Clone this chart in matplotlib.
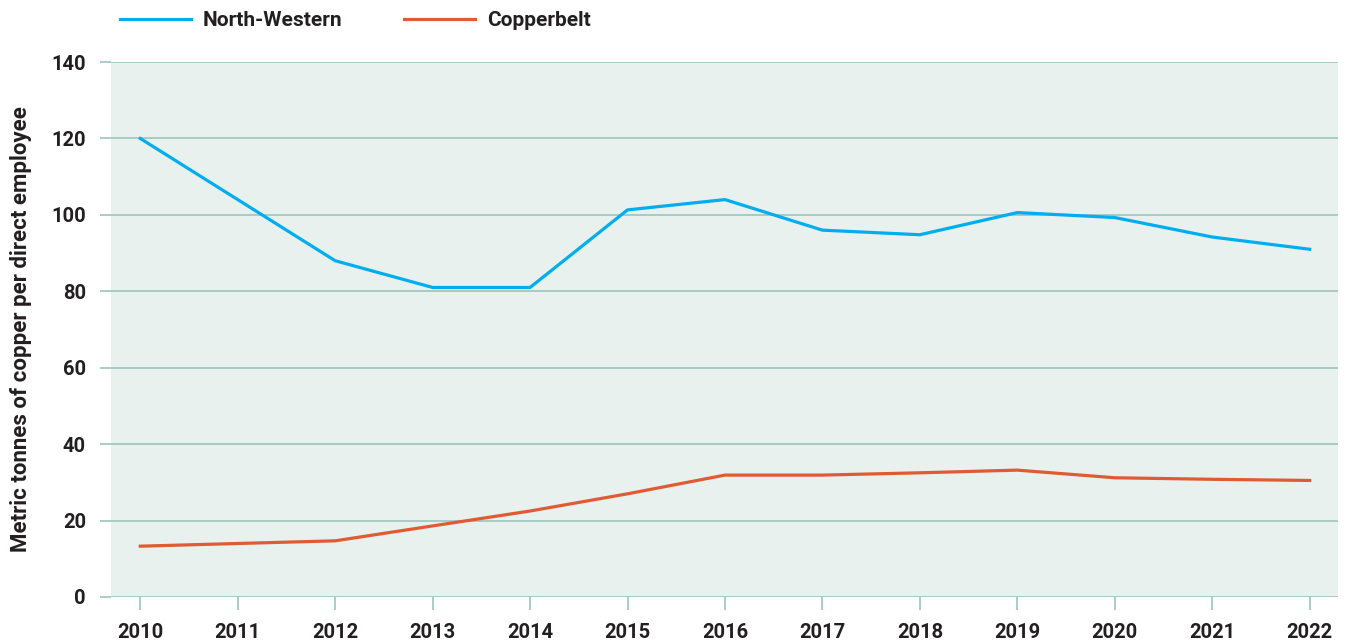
import matplotlib.pyplot as plt

years = list(range(2010, 2023))
north_western = [120.0, 104.0, 88.0, 81.0, 81.0, 101.3, 104.0, 96.0, 94.8, 100.6, 99.3, 94.2, 91.0]
copperbelt = [13.3, 14.0, 14.7, 18.6, 22.5, 27.0, 31.9, 31.9, 32.5, 33.2, 31.2, 30.8, 30.5]
y_ticks = [0, 20, 40, 60, 80, 100, 120, 140]

blue = '#00AEEF'
orange = '#E05A33'
grid_col = '#9DC4BE'
bg_col = '#E9F1EE'
text_col = '#231F20'

plt.rcParams['font.family'] = ['Roboto', 'DejaVu Sans']
plt.rcParams['font.weight'] = 'bold'

fig = plt.figure(figsize=(13.49, 6.42), dpi=100)
ax = fig.add_axes([0.0823, 0.0701, 0.9095, 0.8333])
ax.set_facecolor(bg_col)

ax.plot(years, north_western, color=blue, lw=2.3, label='North-Western')
ax.plot(years, copperbelt, color=orange, lw=2.3, label='Copperbelt')

ax.set_xlim(2009.70, 2022.29)
ax.set_ylim(0, 140)
ax.set_yticks(y_ticks)
ax.set_xticks(years)
ax.yaxis.grid(True, color=grid_col, lw=1.2)
ax.set_axisbelow(True)
for s in ax.spines.values():
    s.set_visible(False)

ax.tick_params(axis='y', length=8, width=1.2, color=grid_col, pad=10,
               labelsize=14.5, labelcolor=text_col)
ax.tick_params(axis='x', length=9, width=1.2, color=grid_col, pad=10,
               labelsize=14.5, labelcolor=text_col)
for lbl in ax.get_xticklabels() + ax.get_yticklabels():
    lbl.set_fontweight('bold')

ax.set_ylabel('Metric tonnes of copper per direct employee', fontsize=16,
              fontweight='bold', color=text_col, labelpad=14)

leg = fig.legend(loc='upper left', bbox_to_anchor=(0.075, 1.012), ncol=2, frameon=False,
                 handlelength=3.4, columnspacing=3.0, handletextpad=0.55,
                 prop={'size': 15, 'weight': 'bold'})
for t in leg.get_texts():
    t.set_color(text_col)

fig.savefig('out.png', dpi=100)
